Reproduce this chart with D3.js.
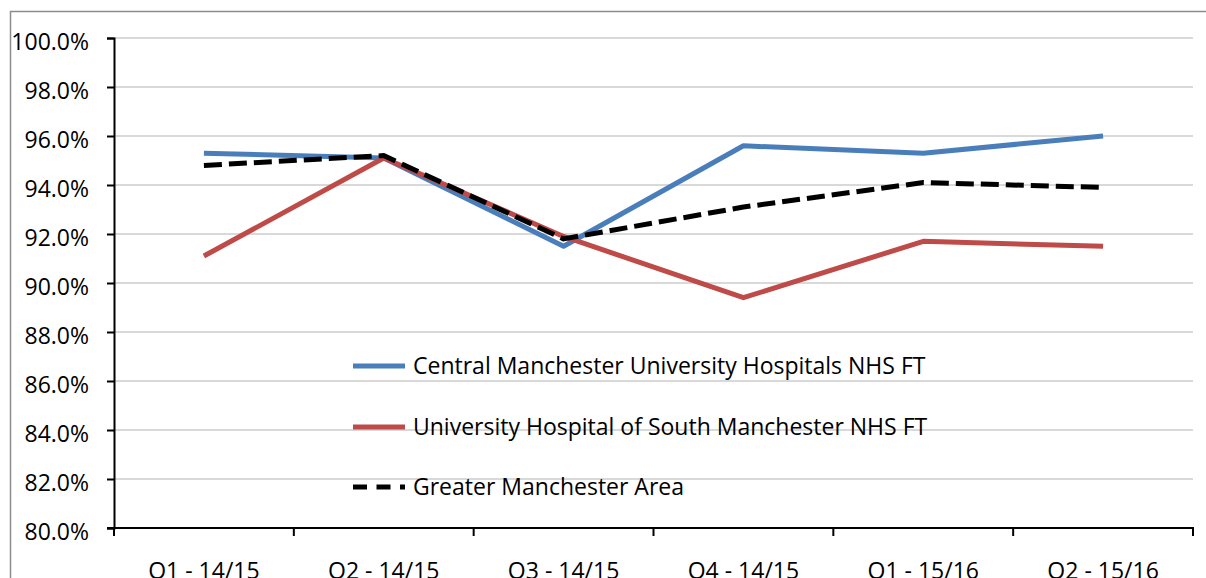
<!DOCTYPE html>
<html>
<head>
<meta charset="utf-8">
<script src="https://cdn.jsdelivr.net/npm/d3@7/dist/d3.min.js"></script>
<style>
  html, body { margin: 0; padding: 0; background: #fff; }
  svg { display: block; }
  text { font-family: "Open Sans", sans-serif; fill: #000; }
</style>
</head>
<body>
<svg id="chart" width="1206" height="578"></svg>
<script>
const categories = ["Q1 - 14/15", "Q2 - 14/15", "Q3 - 14/15", "Q4 - 14/15", "Q1 - 15/16", "Q2 - 15/16"];
const centralValues = [0.953, 0.951, 0.915, 0.956, 0.953, 0.960];
const southValues   = [0.911, 0.951, 0.919, 0.894, 0.917, 0.915];
const greaterValues = [0.948, 0.952, 0.918, 0.931, 0.941, 0.939];
const yTicks = [0.80, 0.82, 0.84, 0.86, 0.88, 0.90, 0.92, 0.94, 0.96, 0.98, 1.00];
const seriesNames = [
  "Central Manchester University Hospitals NHS FT",
  "University Hospital of South Manchester NHS FT",
  "Greater Manchester Area"
];

(function () {
const series = [
  { name: seriesNames[0], values: centralValues, color: "#4a7ebb", dash: null, legendDash: null },
  { name: seriesNames[1], values: southValues, color: "#be4b48", dash: null, legendDash: null },
  { name: seriesNames[2], values: greaterValues, color: "#000000", dash: "18,7", legendDash: "14,9.5" }
];

const svg = d3.select("#chart");

// outer chart border (extends past the window on the right and bottom)
svg.append("rect")
  .attr("x", 10.5).attr("y", 11.5)
  .attr("width", 1400).attr("height", 800)
  .attr("fill", "none").attr("stroke", "#8c8c8c").attr("stroke-width", 1.5);

const pLeft = 114, pRight = 1193, pTop = 38, pBottom = 528;

const x = d3.scaleBand().domain(categories).range([pLeft, pRight]).padding(0);
const y = d3.scaleLinear().domain([0.80, 1.00]).range([pBottom, pTop]);

// gridlines
svg.append("g")
  .selectAll("line")
  .data(yTicks.filter(v => v > 0.80))
  .join("line")
  .attr("x1", pLeft).attr("x2", pRight)
  .attr("y1", d => y(d)).attr("y2", d => y(d))
  .attr("stroke", "#d9d9d9").attr("stroke-width", 2);

// y axis
const yAxis = svg.append("g")
  .attr("transform", `translate(${pLeft},0)`)
  .call(d3.axisLeft(y).tickValues(yTicks).tickFormat(d3.format(".1%")).tickSize(7).tickPadding(18));
yAxis.select(".domain").attr("stroke", "#000").attr("stroke-width", 2);
yAxis.selectAll(".tick line").attr("stroke", "#000").attr("stroke-width", 2);
yAxis.selectAll(".tick text")
  .style("font-family", "'Open Sans', sans-serif")
  .style("font-size", "23px")
  .attr("dy", "0.52em")
  .attr("fill", "#000");

// x axis baseline
svg.append("line")
  .attr("x1", pLeft - 7).attr("x2", pRight + 1)
  .attr("y1", pBottom).attr("y2", pBottom)
  .attr("stroke", "#000").attr("stroke-width", 2);

// x tick marks at category boundaries
const boundaries = categories.map(c => x(c)).concat([x(categories[categories.length - 1]) + x.bandwidth()]);
svg.append("g")
  .selectAll("line")
  .data(boundaries)
  .join("line")
  .attr("x1", d => d).attr("x2", d => d)
  .attr("y1", pBottom).attr("y2", pBottom + 8)
  .attr("stroke", "#000").attr("stroke-width", 2);

// x labels
svg.append("g")
  .selectAll("text")
  .data(categories)
  .join("text")
  .attr("x", d => x(d) + x.bandwidth() / 2)
  .attr("y", 579)
  .attr("text-anchor", "middle")
  .style("font-size", "23px")
  .text(d => d);

// lines
const line = d3.line()
  .x((d, i) => x(categories[i]) + x.bandwidth() / 2)
  .y(d => y(d));

svg.append("g")
  .selectAll("path")
  .data(series)
  .join("path")
  .attr("d", d => line(d.values))
  .attr("fill", "none")
  .attr("stroke", d => d.color)
  .attr("stroke-width", 5)
  .attr("stroke-linejoin", "round")
  .attr("stroke-dasharray", d => d.dash);

// legend
const legendY = [366, 427, 487];
const legend = svg.append("g")
  .selectAll("g")
  .data(series)
  .join("g")
  .attr("transform", (d, i) => `translate(353,${legendY[i]})`);
legend.append("line")
  .attr("x1", 0).attr("x2", 52)
  .attr("y1", 0).attr("y2", 0)
  .attr("stroke", d => d.color)
  .attr("stroke-width", 5)
  .attr("stroke-dasharray", d => d.legendDash);
legend.append("text")
  .attr("x", 60).attr("y", 0)
  .attr("dy", "0.35em")
  .style("font-size", "23px")
  .text(d => d.name);
})();
</script>
</body>
</html>
